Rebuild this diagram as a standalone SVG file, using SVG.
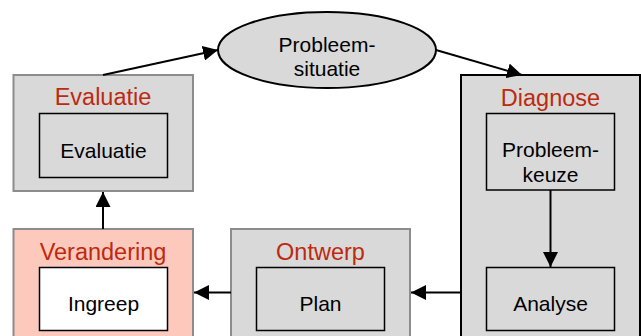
<svg xmlns="http://www.w3.org/2000/svg" width="641" height="336" viewBox="0 0 641 336">
<style>
.outer{fill:#d9d9d9;stroke:#8c8c8c;stroke-width:2}
.inner{fill:#d9d9d9;stroke:#000;stroke-width:1.5}
.title{font-family:"Liberation Sans",Arial,sans-serif;font-size:23.5px;fill:#bd2a0f;text-anchor:middle}
.lbl{font-family:"Liberation Sans",Arial,sans-serif;font-size:21px;fill:#000;text-anchor:middle}
.edge{stroke:#000;stroke-width:2;fill:none;marker-end:url(#ah)}
</style>
<defs>
<marker id="ah" viewBox="0 0 10 10" refX="10" refY="5" markerWidth="15" markerHeight="15" markerUnits="userSpaceOnUse" orient="auto">
<path d="M0,0 L10,5 L0,10 Z" fill="#000"/>
</marker>
</defs>
<rect width="641" height="336" fill="#fff"/>
<g id="probleemsituatie">
<ellipse cx="327" cy="50" rx="109" ry="38" fill="#d9d9d9" stroke="#000" stroke-width="2"/>
<text class="lbl" x="327" y="52">Probleem-</text>
<text class="lbl" x="327" y="76">situatie</text>
</g>
<g id="evaluatie">
<rect class="outer" x="13.5" y="75" width="179.5" height="116"/>
<text class="title" x="103" y="105">Evaluatie</text>
<rect class="inner" x="39.5" y="113.5" width="128" height="64"/>
<text class="lbl" x="103.5" y="157.5">Evaluatie</text>
</g>
<g id="diagnose">
<rect x="461" y="75" width="179" height="270" fill="#d9d9d9" stroke="#000" stroke-width="2"/>
<text class="title" x="550.5" y="106">Diagnose</text>
<rect class="inner" x="486.5" y="113.5" width="128" height="76.5"/>
<text class="lbl" x="550.5" y="157">Probleem-</text>
<text class="lbl" x="550.5" y="182">keuze</text>
<rect class="inner" x="486.5" y="267.5" width="128" height="63"/>
<text class="lbl" x="550.5" y="311">Analyse</text>
</g>
<g id="ontwerp">
<rect class="outer" x="231" y="229" width="179" height="120"/>
<text class="title" x="320.5" y="260">Ontwerp</text>
<rect class="inner" x="256.5" y="267.5" width="128" height="63"/>
<text class="lbl" x="320.5" y="311">Plan</text>
</g>
<g id="verandering">
<rect x="13.5" y="229" width="179.5" height="120" fill="#fdc9bd" stroke="#8c8c8c" stroke-width="2"/>
<text class="title" x="103" y="260">Verandering</text>
<rect x="39.5" y="267.5" width="128" height="63" fill="#fff" stroke="#000" stroke-width="1.5"/>
<text class="lbl" x="103.5" y="311">Ingreep</text>
</g>
<g id="connectors">
<path class="edge" d="M103,75 L218,50"/>
<path class="edge" d="M436,50 L522,75"/>
<path class="edge" d="M550.5,190 L550.5,267"/>
<path class="edge" d="M461,292.5 L411,292.5"/>
<path class="edge" d="M231,292.5 L194,292.5"/>
<path class="edge" d="M103,229 L103,192"/>
</g>
</svg>
